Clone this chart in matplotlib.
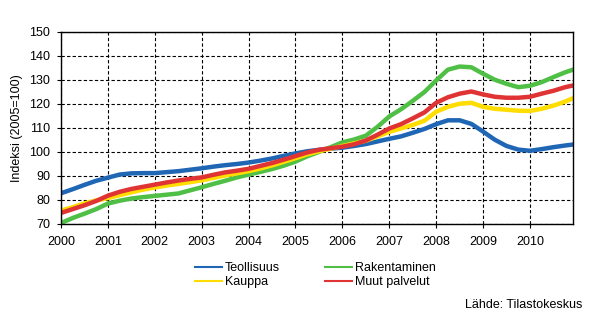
# Indeksikuvio: toimialojen kehitys 2000-2010 (2005=100)

import numpy as np
import matplotlib
matplotlib.use('Agg')
import matplotlib.pyplot as plt

plt.rcParams['font.family'] = ['Liberation Sans', 'DejaVu Sans']

# neljännesvuosittaiset lukemat, viimeinen piste joulukuu 2010
t = [2000.00, 2000.25, 2000.50, 2000.75, 2001.00, 2001.25, 2001.50, 2001.75,
     2002.00, 2002.25, 2002.50, 2002.75, 2003.00, 2003.25, 2003.50, 2003.75,
     2004.00, 2004.25, 2004.50, 2004.75, 2005.00, 2005.25, 2005.50, 2005.75,
     2006.00, 2006.25, 2006.50, 2006.75, 2007.00, 2007.25, 2007.50, 2007.75,
     2008.00, 2008.25, 2008.50, 2008.75, 2009.00, 2009.25, 2009.50, 2009.75,
     2010.00, 2010.25, 2010.50, 2010.75, 2010.917]

teollisuus = [82.8, 84.5, 86.3, 88.0, 89.3, 90.6, 91.1, 91.2,
              91.2, 91.6, 92.0, 92.6, 93.2, 93.9, 94.5, 95.0,
              95.6, 96.4, 97.3, 98.4, 99.4, 100.3, 100.9, 101.4,
              101.8, 102.5, 103.3, 104.4, 105.5, 106.5, 108.0, 109.6,
              111.6, 113.2, 113.2, 111.7, 108.5, 105.1, 102.5, 101.0,
              100.5, 101.2, 102.0, 102.7, 103.1]

rakentaminen = [70.4, 72.5, 74.3, 76.2, 78.5, 79.7, 80.6, 81.2,
                81.7, 82.2, 82.7, 84.0, 85.3, 86.7, 88.0, 89.4,
                90.6, 91.7, 92.9, 94.3, 96.0, 98.2, 100.0, 102.0,
                104.0, 105.2, 106.8, 110.5, 114.8, 117.8, 121.3, 125.0,
                129.8, 134.3, 135.6, 135.3, 132.6, 130.1, 128.4, 127.0,
                127.6, 129.1, 131.2, 133.2, 134.3]

kauppa = [75.6, 77.0, 78.6, 79.8, 80.8, 82.0, 83.2, 84.3,
          85.2, 86.0, 86.7, 87.4, 88.2, 89.2, 90.2, 91.1,
          92.0, 93.1, 94.4, 95.9, 97.4, 99.0, 100.3, 101.4,
          102.5, 103.6, 104.7, 106.5, 108.4, 109.8, 111.3, 113.0,
          116.8, 118.8, 120.1, 120.5, 118.8, 118.0, 117.6, 117.2,
          117.1, 118.0, 119.3, 121.0, 122.4]

muut_palvelut = [74.6, 76.2, 77.8, 79.6, 81.8, 83.4, 84.6, 85.5,
                 86.4, 87.3, 88.1, 88.8, 89.4, 90.5, 91.5, 92.2,
                 93.0, 94.2, 95.4, 96.8, 98.3, 99.8, 100.9, 101.6,
                 102.2, 103.2, 104.8, 107.2, 109.8, 111.6, 114.0, 116.5,
                 120.5, 122.8, 124.3, 125.2, 124.0, 123.0, 122.6, 122.6,
                 123.0, 124.3, 125.5, 127.0, 127.7]

years = list(range(2000, 2011))
yticks = list(range(70, 151, 10))

fig = plt.figure(figsize=(5.94, 3.28), dpi=100)
ax = fig.add_axes([0.1027, 0.3171, 0.8619, 0.5854])

l1, = ax.plot(t, teollisuus, color='#1f66b5', lw=3.2, label='Teollisuus')
l2, = ax.plot(t, rakentaminen, color='#4fbf45', lw=3.2, label='Rakentaminen')
l3, = ax.plot(t, kauppa, color='#ffdd00', lw=3.2, label='Kauppa')
l4, = ax.plot(t, muut_palvelut, color='#e03434', lw=3.2, label='Muut palvelut')

ax.set_xlim(2000, 2010 + 11 / 12)
ax.set_ylim(70, 150)
ax.set_xticks(years)
ax.set_xticklabels([str(y) for y in years])
ax.set_yticks(yticks)
ax.tick_params(axis='both', labelsize=9, length=3, width=0.8, color='black')
ax.tick_params(axis='x', pad=6)
ax.tick_params(axis='y', pad=5)
ax.grid(True, color='black', lw=0.8, linestyle=(0, (3, 2)))
ax.set_axisbelow(True)
for s in ax.spines.values():
    s.set_color('black')
    s.set_linewidth(1)

ax.set_ylabel('Indeksi (2005=100)', fontsize=9)
ax.yaxis.set_label_coords(-0.075, 0.5)

# legenda kahteen sarakkeeseen kuvaajan alle
handles = [plt.Line2D([], [], color=h.get_color(), lw=1.5) for h in (l1, l3, l2, l4)]
labels = ['Teollisuus', 'Kauppa', 'Rakentaminen', 'Muut palvelut']
fig.legend(handles, labels, ncol=2, loc='upper left',
           bbox_to_anchor=(0.328, 0.200), frameon=False, fontsize=9,
           handlelength=2.2, handletextpad=0.2, columnspacing=3.6,
           labelspacing=0.15, borderpad=0, borderaxespad=0)

fig.text(0.98, 0.070, 'Lähde: Tilastokeskus', ha='right', va='center', fontsize=9)

fig.savefig('out.png', dpi=100)
